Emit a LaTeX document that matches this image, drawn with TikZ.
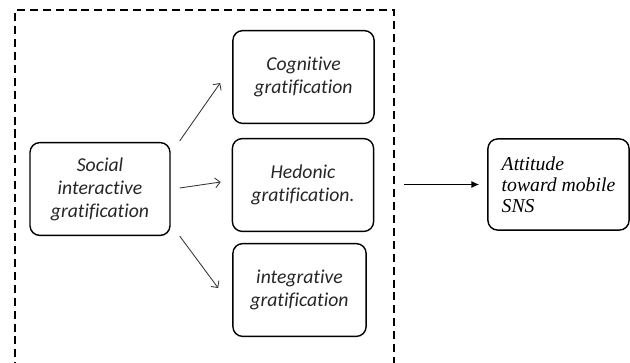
\documentclass[tikz,border=0pt]{standalone}
\usepackage{fontspec}
\setmainfont[Ligatures=NoCommon]{Carlito}
\newfontfamily\attfont{Liberation Serif}
\usetikzlibrary{positioning,arrows.meta}

\begin{document}
\begin{tikzpicture}[
      x=0.025cm,y=-0.025cm,
      font=\itshape\fontsize{14}{16.3}\selectfont,
      grat/.style ={draw,line width=1pt,rounded corners=7pt,minimum width=3.53cm,minimum height=2.32cm,inner xsep=2pt,align=center,text=black!85},
      frm/.style  ={draw,dashed,line width=1.4pt,dash pattern=on 5.7pt off 3.5pt,minimum width=9.475cm,minimum height=9.75cm},
      link/.style ={draw=black!80,line width=0.6pt,-{Straight Barb[length=3.5pt,width=7pt]}},
      outlink/.style={draw,line width=0.8pt,-{Latex[length=5.5pt,width=5pt]}}]
      \useasboundingbox (0,0) rectangle (630,362);
      \clip (0,0) rectangle (630,362);
      % Dashed frame (open at the bottom of the picture)
      \node[frm] (frame) at (204.5,205) {};
      % Gratification boxes
      \node[grat,minimum width=3.5cm] (soc) at (100,189) {Social\\interactive\\gratification};
      \node[grat] (cog) at (303.5,77) {Cognitive\\gratification};
      \node[grat] (hed) at (303,185) {Hedonic\\gratification.};
      \node[grat,minimum width=3.33cm] (int) at (299.5,290) {integrative\\gratification};
      % Outcome
      \node[grat,minimum height=2.28cm,align=left,text=black,font=\attfont\itshape\fontsize{14}{15}\selectfont] (att) at (558.5,184.5) {Attitude\\toward mobile\\SNS};
      % Arrows
      \draw[link] ([shift={(9,-1)}]soc.north east) -- ([shift={(-12,6)}]cog.west);
      \draw[link] ([shift={(9,-1)}]soc.east) -- ([shift={(-11,-3)}]hed.west);
      \draw[link] ([shift={(9,0)}]soc.south east) -- ([shift={(-14,-2)}]int.west);
      \draw[outlink,shorten <=0.225cm,shorten >=0.2cm] (frame.east |- att.west) -- (att.west);
  \end{tikzpicture}
\end{document}
